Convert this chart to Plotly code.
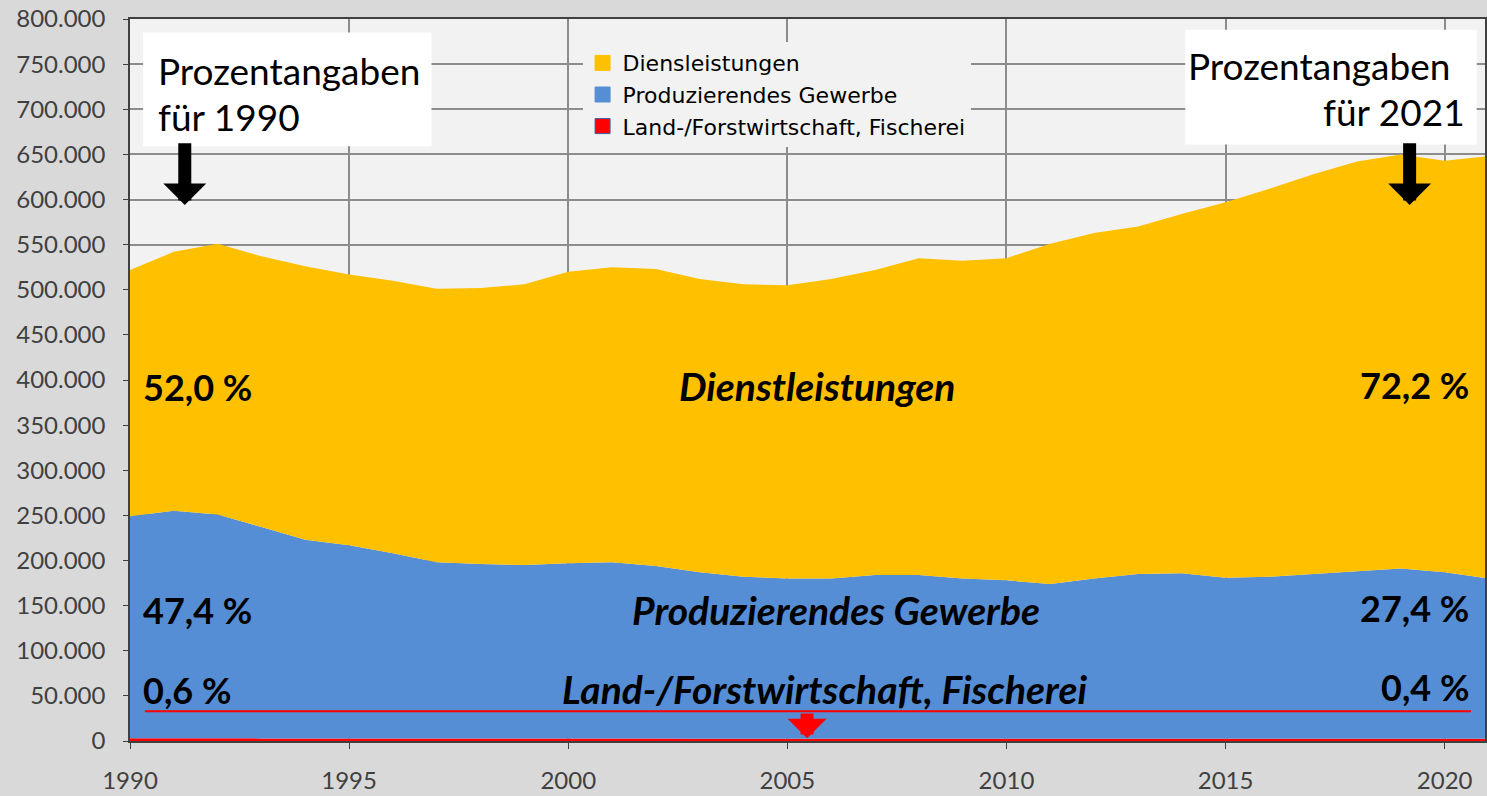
import plotly.graph_objects as go

years = list(range(1990, 2022))
# top of blue area (red + blue) and total (top of yellow), in persons
total = [522000, 542000, 551000, 537000, 526000, 517000, 510000, 501000, 502000, 506000,
         520000, 525000, 523000, 512000, 506000, 505000, 512000, 522000, 535000, 532000,
         535000, 551000, 563000, 570000, 584000, 597000, 612000, 628000, 642000, 650000,
         643000, 648000]
blue_top = [249000, 255000, 251000, 237000, 223000, 217000, 208000, 198000, 196000, 195000,
            197000, 198000, 194000, 187000, 182000, 180000, 180000, 184000, 184000, 180000,
            178000, 174000, 180000, 185000, 186000, 181000, 182000, 185000, 188000, 191000,
            187000, 180000]
land = [3100, 3100, 3000, 2900, 2900, 2800, 2800, 2700, 2700, 2700,
        2700, 2700, 2700, 2600, 2600, 2600, 2600, 2600, 2600, 2600,
        2600, 2600, 2600, 2600, 2600, 2600, 2600, 2600, 2600, 2600,
        2600, 2600]
gewerbe = [b - l for b, l in zip(blue_top, land)]
dienst = [t - b for t, b in zip(total, blue_top)]

names = ["Land-/Forstwirtschaft, Fischerei", "Produzierendes Gewerbe", "Diensleistungen"]
colors = ["#FF0000", "#558ED5", "#FFC000"]
series = [land, gewerbe, dienst]

fig = go.Figure()
for n, c, s in zip(names, colors, series):
    fig.add_trace(go.Scatter(x=years, y=s, name=n, stackgroup="one", mode="none",
                             fillcolor=c, line=dict(width=0), showlegend=False))
# legend entries as squares
for n, c in zip(names, colors):
    fig.add_trace(go.Scatter(x=[None], y=[None], name=n, mode="markers",
                             marker=dict(symbol="square", size=15, color=c,
                                         line=dict(width=1, color="#3A5FA0" if c == "#FF0000" else c))))

FONT = "Lato"
fig.update_layout(
    width=1487, height=796,
    margin=dict(l=130, r=0, t=19, b=55),
    paper_bgcolor="#D9D9D9", plot_bgcolor="#F2F2F2",
    separators=",.",
    font=dict(family=FONT, size=23, color="#404040"),
    showlegend=True,
    legend=dict(x=0.334, y=0.968, xanchor="left", yanchor="top", bgcolor="#F2F2F2",
                traceorder="reversed", font=dict(family="DejaVu Sans", size=22, color="#000000"),
                itemwidth=30, tracegroupgap=0),
    xaxis=dict(range=[1990, 2020.92], tickvals=[1990, 1995, 2000, 2005, 2010, 2015, 2020],
               showgrid=True, gridcolor="#8C8C8C", gridwidth=1.5,
               ticks="outside", ticklen=6, tickcolor="#404040",
               showline=True, linecolor="#404040", linewidth=1.5, mirror=True,
               tickfont=dict(size=24), zeroline=False, ticklabelstandoff=11),
    yaxis=dict(range=[0, 800000], dtick=50000, tickformat=",d",
               showgrid=True, gridcolor="#8C8C8C", gridwidth=1.5,
               ticks="outside", ticklen=5, tickcolor="#404040",
               showline=True, linecolor="#404040", linewidth=1.5, mirror=True,
               tickfont=dict(size=24), zeroline=False, layer="below traces",
               ticklabelstandoff=13),
)

# white text boxes
fig.add_shape(type="rect", x0=1990.3, x1=1996.88, y0=659000, y1=785000,
              fillcolor="white", line=dict(width=0), layer="above")
fig.add_shape(type="rect", x0=2014.08, x1=2020.73, y0=661000, y1=788000,
              fillcolor="white", line=dict(width=0), layer="above")

def txt(x, y, t, size=32, xanchor="left", bold=False, italic=False, color="#000000"):
    if bold:
        t = "<b>" + t + "</b>"
    if italic:
        t = "<i>" + t + "</i>"
    fig.add_annotation(x=x, y=y, text=t, showarrow=False, xanchor=xanchor, yanchor="middle",
                       font=dict(family=FONT, size=size, color=color))

txt(1990.6, 743000, "Prozentangaben", size=37)
txt(1990.6, 692000, "für 1990", size=37)
txt(2014.1, 748000, "Prozentangaben", size=37)
txt(2020.5, 697000, "für 2021", size=37, xanchor="right")

# percentage labels
txt(1990.25, 392000, "52,0 %", size=36, bold=True)
txt(1990.25, 145000, "47,4 %", size=36, bold=True)
txt(1990.25, 56000, "0,6 %", size=36, bold=True)
txt(2020.6, 395000, "72,2 %", size=36, xanchor="right", bold=True)
txt(2020.6, 147000, "27,4 %", size=36, xanchor="right", bold=True)
txt(2020.6, 60000, "0,4 %", size=36, xanchor="right", bold=True)

# series labels
txt(2005.67, 393000, "Dienstleistungen", size=39, xanchor="center", bold=True, italic=True)
txt(2006.1, 145000, "Produzierendes Gewerbe", size=39, xanchor="center", bold=True, italic=True)
txt(2005.85, 58000, "Land-/Forstwirtschaft, Fischerei", size=39, xanchor="center", bold=True, italic=True)

# red line
fig.add_shape(type="line", x0=1990.34, x1=2020.6, y0=33000, y1=33000,
              line=dict(color="#FF0000", width=2), layer="above")

# arrows
def arrow(x, ytip, ytail, color, width, size):
    fig.add_annotation(x=x, y=ytip, ax=x, ay=ytail, xref="x", yref="y", axref="x", ayref="y",
                       text="", showarrow=True, arrowhead=1, arrowsize=size,
                       arrowwidth=width, arrowcolor=color)

arrow(1991.25, 594000, 664000, "#000000", 13, 0.55)
arrow(2019.2, 594000, 664000, "#000000", 13, 0.55)
arrow(2005.45, 3000, 32000, "#FF0000", 13, 0.5)

fig.write_html("out.html")
